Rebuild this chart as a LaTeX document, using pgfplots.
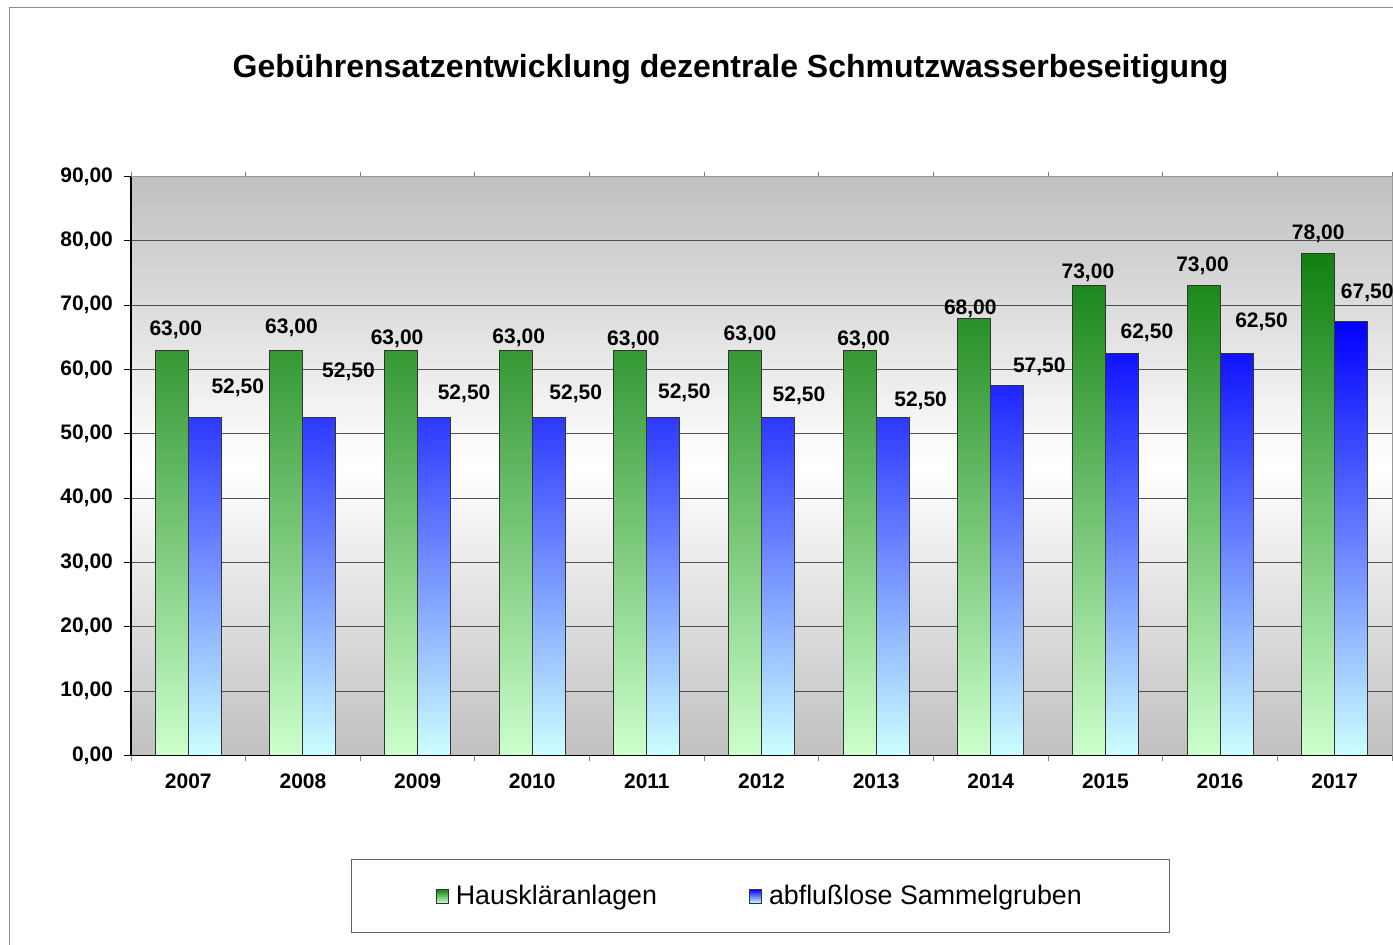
\documentclass[border=0pt]{standalone}
\usepackage{pgfplots}
\pgfplotsset{compat=1.18}
\usepackage{fontspec}
\setmainfont{Liberation Sans}
\definecolor{gtop}{RGB}{16,128,16}
\definecolor{gbot}{RGB}{204,255,204}
\definecolor{btop}{RGB}{0,0,255}
\definecolor{bbot}{RGB}{204,255,255}
\definecolor{bggray}{RGB}{192,192,192}
\definecolor{gridc}{RGB}{80,80,80}

\begin{document}
\begin{tikzpicture}
\useasboundingbox (0,0) rectangle (696.5pt,-472.5pt);
\draw[black!45, line width=0.6pt] (4.6pt,-3.9pt) rectangle (720pt,-500pt);
\node[font=\fontsize{16}{19}\selectfont\bfseries] at (365.25pt,-34.5pt) {Gebührensatzentwicklung dezentrale Schmutzwasserbeseitigung};
\begin{axis}[
  at={(65.5pt,-377.75pt)}, anchor=south west,
  scale only axis, width=630.5pt, height=289.5pt,
  clip=false,
  ymin=0, ymax=90, ytick={0,10,...,90},
  xmin=-0.5, xmax=10.5,
  xtick={0,...,10},
  xticklabels={2007,2008,2009,2010,2011,2012,2013,2014,2015,2016,2017},
  minor xtick={-0.5,0.5,...,10.5},
  ybar=0pt, bar width=16.5pt,
  axis background/.style={shade, top color=bggray, bottom color=bggray, middle color=white},
  ymajorgrids, major grid style={gridc, line width=0.5pt},
  tick align=outside,
  major tick length=3.5pt, minor tick length=2.5pt,
  y tick style={black, line width=0.5pt},
  major x tick style={draw=none},
  minor x tick style={black!50, line width=0.5pt},
  axis line style={black!40, line width=0.5pt},
  /pgf/number format/assume math mode=true,
  yticklabel={\pgfmathprintnumber[fixed,fixed zerofill,precision=2,use comma]{\tick}},
  yticklabel style={font=\fontsize{10.5}{12}\selectfont\bfseries, xshift=-2pt},
  xticklabel style={font=\fontsize{10.5}{12}\selectfont\bfseries, yshift=-2pt},
  legend columns=2,
  legend style={at={(0.4995,-0.243)}, anchor=center, draw=black!60, line width=0.5pt, inner xsep=42pt, inner ysep=10.5pt, font=\fontsize{13.4}{15}\selectfont, /tikz/every odd column/.append style={column sep=1.5pt}, /tikz/every even column/.append style={column sep=44pt}},
  legend image code/.code={\draw[#1,/tikz/.cd] (0pt,-3.5pt) rectangle (6pt,3.5pt);},
  nodes near coords={\pgfmathprintnumber[fixed,fixed zerofill,precision=2,use comma]{\pgfplotspointmeta}},
  nodes near coords style={font=\fontsize{10.5}{12}\selectfont\bfseries, anchor=center, text=black, xshift=\labdx, yshift=\labdy},
  visualization depends on={\thisrow{dx}*1pt\as\labdx},
  visualization depends on={\thisrow{dy}*1pt\as\labdy},
]
\addplot[forget plot, bar shift=-8.25pt, draw=black!80, line width=0.5pt, top color=gtop, bottom color=gbot]
  table[x=x,y=y] {
x y dx dy
0 63.0 2 10
1 63.0 2.5 11
2 63.0 -2 5.5
3 63.0 1.5 6
4 63.0 1.5 5
5 63.0 2.5 7.5
6 63.0 2 5
7 68.0 -2 4.5
8 73.0 -0.5 6.5
9 73.0 -0.5 10
10 78.0 0 10
};
\addplot[forget plot, bar shift=8.25pt, draw=black!80, line width=0.5pt, top color=btop, bottom color=bbot]
  table[x=x,y=y] {
x y dx dy
0 52.5 16.5 15
1 52.5 14.5 23
2 52.5 15 12
3 52.5 13.5 12
4 52.5 10.5 12.5
5 52.5 10.5 11
6 52.5 14 8.5
7 57.5 16 9.5
8 62.5 12.5 10.5
9 62.5 12.5 16
10 67.5 8 14
};
\addlegendimage{draw=black!80, line width=0.5pt, top color=gtop, bottom color=gbot}
\addlegendentry{Hauskläranlagen}
\addlegendimage{draw=black!80, line width=0.5pt, top color=btop, bottom color=bbot}
\addlegendentry{abflußlose Sammelgruben}
\draw[black, line width=0.8pt] (rel axis cs:0,0) -- (rel axis cs:0,1);
\draw[black, line width=0.8pt] (rel axis cs:0,0) -- (rel axis cs:1,0);
\end{axis}
\end{tikzpicture}
\end{document}
